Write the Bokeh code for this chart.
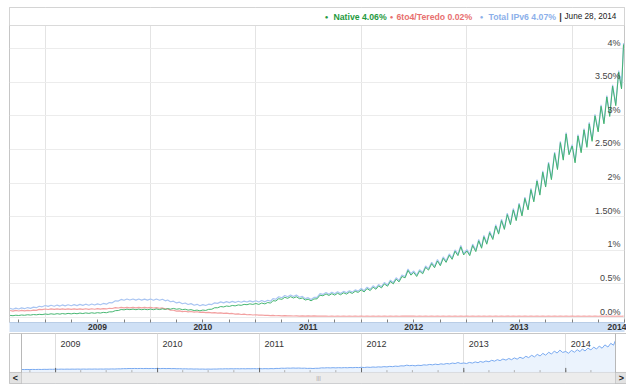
from datetime import datetime, timedelta
import numpy as np
from bokeh.plotting import figure
from bokeh.layouts import column
from bokeh.models import (Range1d, FixedTicker, DatetimeTickFormatter, BoxAnnotation,
                          Span, Label, ColumnDataSource)
from bokeh.embed import file_html
from bokeh.resources import INLINE

# ---------------- data (percent of users), sampled on the 1st, 11th, 21st of each month ----------------
native_2008 = [0.031, 0.027, 0.034, 0.030, 0.037, 0.033, 0.041, 0.036, 0.044, 0.040, 0.047, 0.043]
native_2009 = [0.052, 0.046, 0.055, 0.048, 0.057, 0.050, 0.059, 0.052, 0.061, 0.054, 0.063, 0.056,
               0.066, 0.059, 0.068, 0.061, 0.070, 0.063, 0.072, 0.066, 0.076, 0.071, 0.084, 0.084,
               0.102, 0.104, 0.119, 0.114, 0.124, 0.117, 0.125, 0.116, 0.125, 0.116, 0.123, 0.116]
native_2010 = [0.125, 0.116, 0.127, 0.118, 0.129, 0.120, 0.132, 0.124, 0.135, 0.123, 0.130, 0.117,
               0.123, 0.110, 0.117, 0.103, 0.110, 0.099, 0.111, 0.105, 0.121, 0.123, 0.145, 0.145,
               0.163, 0.157, 0.171, 0.165, 0.179, 0.173, 0.187, 0.181, 0.195, 0.190, 0.203, 0.195]
native_2011 = [0.208, 0.195, 0.215, 0.202, 0.223, 0.214, 0.250, 0.245, 0.280, 0.270, 0.300, 0.285,
               0.310, 0.290, 0.308, 0.280, 0.290, 0.260, 0.272, 0.248, 0.275, 0.278, 0.332, 0.323,
               0.350, 0.328, 0.354, 0.333, 0.360, 0.338, 0.367, 0.348, 0.377, 0.358, 0.390, 0.373]
native_2012 = [0.41, 0.38, 0.43, 0.40, 0.45, 0.42, 0.47, 0.44, 0.50, 0.465, 0.535, 0.50,
               0.57, 0.53, 0.61, 0.59, 0.70, 0.63, 0.67, 0.61, 0.69, 0.65, 0.745, 0.705,
               0.80, 0.74, 0.84, 0.77, 0.88, 0.82, 0.925, 0.865, 0.985, 0.92, 1.05, 0.93]
native_2013 = [0.99, 0.92, 1.07, 0.98, 1.14, 1.03, 1.20, 1.09, 1.26, 1.16, 1.36, 1.24,
               1.44, 1.31, 1.53, 1.38, 1.60, 1.44, 1.68, 1.51, 1.77, 1.60, 1.90, 1.72,
               2.03, 1.82, 2.16, 1.94, 2.29, 2.05, 2.44, 2.20, 2.60, 2.34, 2.73, 2.42]
native_2014 = [2.55, 2.30, 2.70, 2.45, 2.79, 2.53, 2.88, 2.62, 3.00, 2.76, 3.14, 2.88,
               3.28, 2.99, 3.44, 3.15, 3.65, 3.40, 4.06]

sixto4_2008 = [0.104, 0.096, 0.105, 0.097, 0.106, 0.098, 0.107, 0.100, 0.110, 0.106, 0.120, 0.116]
sixto4_2009 = [0.126, 0.119, 0.128, 0.120, 0.128, 0.120, 0.128, 0.121, 0.129, 0.121, 0.129, 0.121,
               0.129, 0.122, 0.130, 0.122, 0.130, 0.123, 0.131, 0.124, 0.133, 0.127, 0.138, 0.134,
               0.146, 0.141, 0.150, 0.143, 0.151, 0.143, 0.151, 0.143, 0.151, 0.143, 0.150, 0.142]
sixto4_2010 = [0.150, 0.141, 0.148, 0.138, 0.142, 0.128, 0.128, 0.110, 0.108, 0.094, 0.098, 0.087,
               0.093, 0.083, 0.089, 0.079, 0.086, 0.076, 0.081, 0.073, 0.077, 0.069, 0.073, 0.065,
               0.069, 0.061, 0.065, 0.057, 0.060, 0.051, 0.054, 0.045, 0.049, 0.041, 0.045, 0.037]
sixto4_2011 = [0.041, 0.035, 0.037, 0.031, 0.033, 0.028, 0.031, 0.026, 0.029, 0.024, 0.027, 0.023,
               0.026, 0.022, 0.025, 0.021, 0.024, 0.020, 0.023, 0.020, 0.023, 0.020, 0.022, 0.020,
               0.022, 0.019, 0.022, 0.019, 0.022, 0.019, 0.021, 0.019, 0.021, 0.019, 0.021, 0.019]
sixto4_2012 = [0.021, 0.019, 0.021, 0.019, 0.021, 0.019, 0.021, 0.019, 0.021, 0.019, 0.021, 0.019,
               0.021, 0.019, 0.022, 0.020, 0.022, 0.020, 0.021, 0.019, 0.021, 0.019, 0.021, 0.019,
               0.021, 0.019, 0.021, 0.019, 0.021, 0.019, 0.021, 0.019, 0.021, 0.019, 0.021, 0.019]
sixto4_2013 = [0.021, 0.019, 0.021, 0.019, 0.021, 0.019, 0.021, 0.019, 0.021, 0.019, 0.021, 0.019,
               0.021, 0.019, 0.021, 0.019, 0.021, 0.019, 0.021, 0.019, 0.021, 0.019, 0.021, 0.019,
               0.021, 0.019, 0.021, 0.019, 0.021, 0.019, 0.021, 0.019, 0.021, 0.019, 0.021, 0.019]
sixto4_2014 = [0.021, 0.019, 0.021, 0.019, 0.021, 0.019, 0.021, 0.019, 0.021, 0.019, 0.021, 0.019,
               0.021, 0.019, 0.021, 0.019, 0.021, 0.019, 0.020]

data_months = [(2008, range(9, 13)), (2009, range(1, 13)), (2010, range(1, 13)),
               (2011, range(1, 13)), (2012, range(1, 13)), (2013, range(1, 13)), (2014, range(1, 7))]
sample_days = [1, 11, 21]
last_date = datetime(2014, 6, 28)

series_names = ["Native", "6to4/Teredo", "Total IPv6"]
series_last = ["4.06%", "0.02%", "4.07%"]
header_date = "June 28, 2014"
y_ticks = [0.0, 0.5, 1.0, 1.5, 2.0, 2.5, 3.0, 3.5, 4.0]
y_tick_labels = ["0.0%", "0.5%", "1%", "1.50%", "2%", "2.50%", "3%", "3.50%", "4%"]
axis_years = [2009, 2010, 2011, 2012, 2013, 2014]

# ---------------- assemble ----------------
dates = [datetime(y, m, d) for y, ms_ in data_months for m in ms_ for d in sample_days] + [last_date]
native = np.array(native_2008 + native_2009 + native_2010 + native_2011 + native_2012 + native_2013 + native_2014)
sixto4 = np.array(sixto4_2008 + sixto4_2009 + sixto4_2010 + sixto4_2011 + sixto4_2012 + sixto4_2013 + sixto4_2014)
total = native + sixto4
src = ColumnDataSource(dict(date=dates, native=native, sixto4=sixto4, total=total))

EPOCH = datetime(1970, 1, 1)
def ms(dt):
    return (dt - EPOCH).total_seconds() * 1000.0

FONT = "Liberation Sans"
GREEN, RED, BLUE = "#3db26a", "#f2a0a0", "#a9c5f2"

# ---------------- main chart ----------------
p = figure(frame_width=615, frame_height=315, x_axis_type="datetime",
           x_range=Range1d(datetime(2008, 8, 30), datetime(2014, 7, 1, 6)),
           y_range=Range1d(-0.0743, 4.610), y_axis_location=None,
           toolbar_location=None, output_backend="svg",
           min_border_left=9, min_border_right=2, min_border_top=7, min_border_bottom=0,
           background_fill_color="white", border_fill_color="white",
           outline_line_color="#c6c6c6")

p.xgrid.ticker = FixedTicker(ticks=[ms(datetime(y, 1, 1)) for y in axis_years])
p.xgrid.grid_line_color = "#e4e4e4"
p.ygrid.ticker = FixedTicker(ticks=y_ticks)
p.ygrid.grid_line_color = "#ececec"

ax = p.xaxis[0]
ax.ticker = FixedTicker(ticks=[ms(datetime(y, 7, 1)) for y in axis_years],
                        minor_ticks=[ms(datetime(y, m, 1)) for y in [2008] + axis_years for m in (1, 4, 10)])
ax.formatter = DatetimeTickFormatter(years="%Y", months="%Y", days="%Y", hours="%Y")
ax.major_tick_in = 3
ax.major_tick_out = 0
ax.minor_tick_in = 3
ax.minor_tick_out = 0
ax.major_tick_line_color = "#808080"
ax.minor_tick_line_color = "#808080"
ax.axis_line_color = "#b9cde6"
ax.major_label_standoff = 1
ax.major_label_text_font = FONT
ax.major_label_text_font_size = "8.5px"
ax.major_label_text_font_style = "bold"
ax.major_label_text_color = "#333333"
ax.background_fill_color = "#cfe0f5"

p.line("date", "total", source=src, line_color=BLUE, line_width=1.2)
p.line("date", "sixto4", source=src, line_color=RED, line_width=1.2)
p.line("date", "native", source=src, line_color=GREEN, line_width=1.0, line_alpha=0.95)

# header strip
p.add_layout(BoxAnnotation(bottom=4.342, fill_color="white", fill_alpha=1.0, line_alpha=0))
p.add_layout(Span(location=4.342, dimension="width", line_color="#dadada", line_width=1))

hy = 4.476
legend_cols = ["#1f9a3e", "#e8706f", "#8cb0ea"]
dot_x = [317, 382, 472]
text_x = [324, 387, 479]
for name, val, col, dx, tx in zip(series_names, series_last, legend_cols, dot_x, text_x):
    p.add_layout(Label(x=dx, x_units="screen", y=hy, text="\u25cf", text_color=col,
                       text_font=FONT, text_font_size="6px", text_align="center", text_baseline="middle"))
    p.add_layout(Label(x=tx, x_units="screen", y=hy, text=f"{name} {val}", text_color=col,
                       text_font=FONT, text_font_size="8.7px", text_font_style="bold",
                       text_baseline="middle"))
p.add_layout(Label(x=551, x_units="screen", y=hy, text="|", text_color="#333333",
                   text_font=FONT, text_font_size="9px", text_font_style="bold",
                   text_align="center", text_baseline="middle"))
p.add_layout(Label(x=555, x_units="screen", y=hy, text=header_date, text_color="#222222",
                   text_font=FONT, text_font_size="8.2px", text_baseline="middle"))

for v, t in zip(y_ticks, y_tick_labels):
    p.add_layout(Label(x=611, x_units="screen", y=v, y_offset=1, text=t, text_color="#444444",
                       text_font=FONT, text_font_size="9px", text_align="right",
                       text_baseline="bottom"))

# ---------------- navigator ----------------
d0, d1 = dates[0], dates[-1]
pad = (d1 - d0) * (12 / 594)
n = figure(frame_width=618, frame_height=50, x_axis_type="datetime",
           x_range=Range1d(d0 - pad, d1 + pad), y_range=Range1d(-1.76, 5.0),
           x_axis_location=None, y_axis_location=None,
           toolbar_location=None, output_backend="svg",
           min_border_left=8, min_border_right=0, min_border_top=1, min_border_bottom=2,
           background_fill_color="white", border_fill_color="white",
           outline_line_color="#c6c6c6")
n.xgrid.ticker = FixedTicker(ticks=[ms(datetime(y, 1, 1)) for y in axis_years])
n.xgrid.grid_line_color = "#dedede"
n.ygrid.visible = False

n.varea(x="date", y1=-1.76, y2="total", source=src, fill_color="#e6f0fc", fill_alpha=0.8)
n.line("date", "total", source=src, line_color="#7aaaf0", line_width=1)

quarters = [datetime(y, m, 1) for y in [2008] + axis_years for m in (1, 4, 7, 10)
            if d0 <= datetime(y, m, 1) <= d1]
n.segment(x0=quarters, y0=-0.27, x1=quarters, y1=0.05, line_color="#b0b0b0", line_width=1)
jans = [datetime(y, 1, 1) for y in axis_years]
n.segment(x0=jans, y0=-0.27, x1=jans, y1=0.35, line_color="#666666", line_width=1)

for y in axis_years:
    n.add_layout(Label(x=ms(datetime(y, 1, 1)), x_offset=5, y=40, y_units="screen", text=str(y),
                       text_color="#333333", text_font=FONT, text_font_size="9px",
                       text_baseline="middle"))

n.add_layout(Span(location=ms(d0), dimension="height", line_color="#b8b8b8"))
n.add_layout(Span(location=ms(d1), dimension="height", line_color="#b8b8b8"))

# scrollbar
n.add_layout(BoxAnnotation(top=-0.27, fill_color="#ececec", fill_alpha=1.0,
                           line_color="#b0b0b0", line_width=1))
n.add_layout(BoxAnnotation(top=-0.27, right=ms(d0), fill_color="#e2e2e2", fill_alpha=1.0,
                           line_color="#8a8a8a", line_width=1))
n.add_layout(BoxAnnotation(top=-0.27, left=ms(d1), fill_color="#e2e2e2", fill_alpha=1.0,
                           line_color="#8a8a8a", line_width=1))
n.add_layout(Label(x=ms(d0), x_offset=-6, y=-1.0, text="<", text_color="#222222",
                   text_font=FONT, text_font_size="9px", text_font_style="bold",
                   text_align="center", text_baseline="middle"))
n.add_layout(Label(x=ms(d1), x_offset=6, y=-1.0, text=">", text_color="#222222",
                   text_font=FONT, text_font_size="9px", text_font_style="bold",
                   text_align="center", text_baseline="middle"))
n.add_layout(Label(x=ms(d0 + (d1 - d0) / 2), y=-1.0, text="|||", text_color="#a0a0a0",
                   text_font=FONT, text_font_size="6px", text_align="center",
                   text_baseline="middle"))

layout = column(p, n, spacing=0)
open("out.html", "w").write(file_html(layout, INLINE))
